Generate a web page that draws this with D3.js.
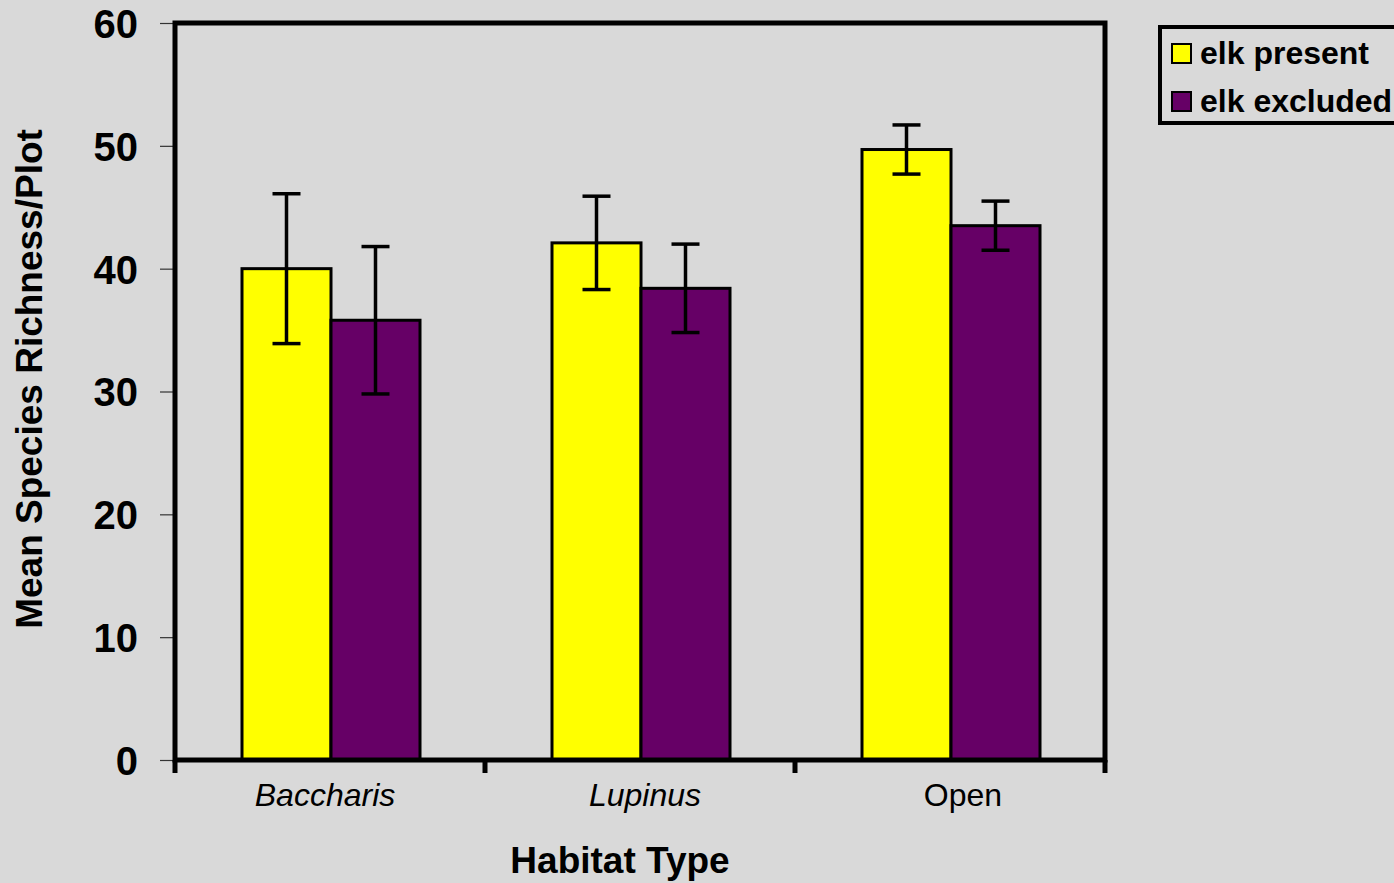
<!DOCTYPE html>
<html>
<head>
<meta charset="utf-8">
<script src="https://cdn.jsdelivr.net/npm/d3@7"></script>
<style>
  html, body { margin: 0; padding: 0; background: #d9d9d9; }
  svg { display: block; font-family: "Liberation Sans", Arial, sans-serif; }
</style>
</head>
<body>
<svg id="chart" width="1394" height="883"></svg>
<script>
// Habitat categories and species-richness means with standard errors
const categories = ["Baccharis", "Lupinus", "Open"];
const italicCategory = [true, true, false];
const seriesNames = ["elk present", "elk excluded"];
const presentMeans = [40.0, 42.1, 49.7];
const presentErrors = [6.1, 3.8, 2.0];
const excludedMeans = [35.8, 38.4, 43.5];
const excludedErrors = [6.0, 3.6, 2.0];
const yTicks = [0, 10, 20, 30, 40, 50, 60];
const seriesColors = ["#ffff00", "#660066"];

const svg = d3.select("#chart");
const plot = { left: 175, right: 1105, top: 23, bottom: 760 };
const labelShift = [-5, 5, 13];

const x = d3.scaleBand().domain(categories).range([plot.left, plot.right]).paddingInner(0).paddingOuter(0);
const xInner = d3.scaleBand().domain(seriesNames).range([0, 178]);
const y = d3.scaleLinear().domain([0, 60]).range([plot.bottom, plot.top]);

const rows = categories.map((c, i) => ({
  cat: c,
  values: [
    { s: seriesNames[0], v: presentMeans[i], e: presentErrors[i], color: seriesColors[0] },
    { s: seriesNames[1], v: excludedMeans[i], e: excludedErrors[i], color: seriesColors[1] }
  ]
}));

// Y axis ticks (thin, outside the frame) and labels
const yAxis = d3.axisLeft(y).tickValues(yTicks).tickSize(13).tickSizeOuter(0).tickPadding(22);
const gy = svg.append("g").attr("transform", `translate(${plot.left - 2},0)`).call(yAxis);
gy.select(".domain").remove();
gy.selectAll(".tick line").attr("stroke", "#333").attr("stroke-width", 1.2);
gy.selectAll(".tick text")
  .attr("font-size", 40).attr("font-weight", "bold").attr("fill", "#000")
  .attr("font-family", "'Liberation Sans', Arial, sans-serif")
  .attr("dy", "0.36em");

// Bars
const groups = svg.append("g").selectAll("g").data(rows).join("g")
  .attr("transform", d => `translate(${x(d.cat) + (x.bandwidth() - 178) / 2 + 1},0)`);

groups.selectAll("rect").data(d => d.values).join("rect")
  .attr("x", d => xInner(d.s))
  .attr("y", d => y(d.v))
  .attr("width", xInner.bandwidth())
  .attr("height", d => y(0) - y(d.v))
  .attr("fill", d => d.color)
  .attr("stroke", "#000")
  .attr("stroke-width", 3);

// Error bars
const eb = groups.selectAll("g.err").data(d => d.values).join("g").attr("class", "err");
const cx = d => xInner(d.s) + xInner.bandwidth() / 2;
eb.append("line")
  .attr("x1", cx).attr("x2", cx)
  .attr("y1", d => y(d.v + d.e)).attr("y2", d => y(d.v - d.e))
  .attr("stroke", "#000").attr("stroke-width", 3.5);
[1, -1].forEach(sign => {
  eb.append("line")
    .attr("x1", d => cx(d) - 14).attr("x2", d => cx(d) + 14)
    .attr("y1", d => y(d.v + sign * d.e)).attr("y2", d => y(d.v + sign * d.e))
    .attr("stroke", "#000").attr("stroke-width", 3.5);
});

// Plot frame
svg.append("rect")
  .attr("x", plot.left).attr("y", plot.top)
  .attr("width", plot.right - plot.left).attr("height", plot.bottom - plot.top)
  .attr("fill", "none").attr("stroke", "#000").attr("stroke-width", 5);

// X axis ticks between categories (thick, below the axis)
const xTickPos = categories.map(c => x(c)).concat([plot.right]);
svg.append("g").selectAll("line").data(xTickPos).join("line")
  .attr("x1", d => d).attr("x2", d => d)
  .attr("y1", plot.bottom).attr("y2", plot.bottom + 13)
  .attr("stroke", "#000").attr("stroke-width", 5);

// Category labels
svg.append("g").selectAll("text").data(categories).join("text")
  .attr("x", (d, i) => x(d) + x.bandwidth() / 2 + labelShift[i])
  .attr("y", 806)
  .attr("text-anchor", "middle")
  .attr("font-size", 32)
  .attr("font-style", (d, i) => italicCategory[i] ? "italic" : "normal")
  .text(d => d);

// Axis titles
svg.append("text")
  .attr("x", 620).attr("y", 873)
  .attr("text-anchor", "middle")
  .attr("font-size", 37).attr("font-weight", "bold")
  .text("Habitat Type");

svg.append("text")
  .attr("transform", "translate(42,379) rotate(-90)")
  .attr("text-anchor", "middle")
  .attr("font-size", 37).attr("font-weight", "bold")
  .text("Mean Species Richness/Plot");

// Legend
const legend = svg.append("g");
legend.append("rect")
  .attr("x", 1160).attr("y", 27).attr("width", 260).attr("height", 96)
  .attr("fill", "none").attr("stroke", "#000").attr("stroke-width", 4);
const li = legend.selectAll("g").data(seriesNames).join("g")
  .attr("transform", (d, i) => `translate(1172,${44 + i * 48})`);
li.append("rect")
  .attr("width", 19).attr("height", 19)
  .attr("fill", (d, i) => seriesColors[i])
  .attr("stroke", "#000").attr("stroke-width", 2);
li.append("text")
  .attr("x", 28).attr("y", 20)
  .attr("font-size", 32).attr("font-weight", "bold")
  .text(d => d);
</script>
</body>
</html>
